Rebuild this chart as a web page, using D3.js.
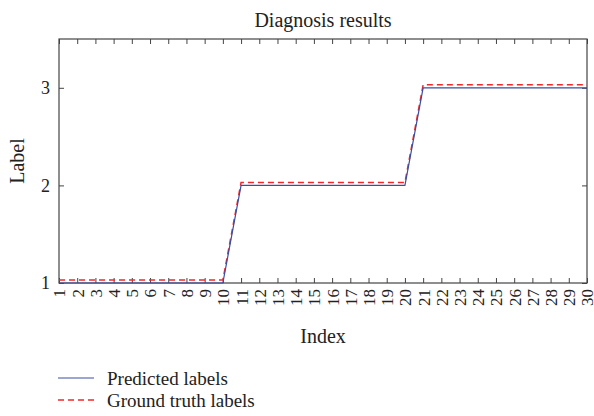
<!DOCTYPE html>
<html lang="en">
<head>
    <meta charset="UTF-8">
    <title>Diagnosis results</title>
    <script src="https://d3js.org/d3.v7.min.js"></script>
    <style>
        body { margin: 0; background: #fff; }
        svg text { font-family: "Liberation Serif", "DejaVu Serif", serif; fill: #222; }
        .frame { fill: none; stroke: #444; stroke-width: 1.2px; }
        .tick line { stroke: #444; }
    </style>
</head>
<body>
<div id="chart"></div>
<script>
    const indices = d3.range(1, 31);
    const predicted = [1,1,1,1,1,1,1,1,1,1, 2,2,2,2,2,2,2,2,2,2, 3,3,3,3,3,3,3,3,3,3];
    const groundTruth = [1,1,1,1,1,1,1,1,1,1, 2,2,2,2,2,2,2,2,2,2, 3,3,3,3,3,3,3,3,3,3];
    const yTicks = [1, 2, 3];
    // ground truth drawn slightly above so both lines stay visible
    const truthOffset = 0.03;

    const width = 594, height = 416;
    const margin = { top: 39, right: 7, bottom: 133, left: 59 };
    const w = width - margin.left - margin.right;
    const h = height - margin.top - margin.bottom;

    const svg = d3.select("#chart").append("svg")
        .attr("width", width)
        .attr("height", height);

    const g = svg.append("g").attr("transform", `translate(${margin.left},${margin.top})`);

    const x = d3.scaleLinear().domain([1, 30]).range([0, w]);
    const y = d3.scaleLinear().domain([1, 3.5]).range([h, 0]);

    // bottom axis with rotated labels
    const xAxis = g.append("g")
        .attr("transform", `translate(0,${h})`)
        .call(d3.axisBottom(x).tickValues(indices).tickFormat(d3.format("d")).tickSizeInner(-5).tickSizeOuter(0));
    xAxis.select(".domain").remove();
    xAxis.selectAll("text")
        .attr("transform", "rotate(-90)")
        .attr("x", -6)
        .attr("y", 0)
        .attr("dy", "0.35em")
        .style("text-anchor", "end")
        .style("font-size", "17px");

    // top ticks
    const xTop = g.append("g")
        .call(d3.axisTop(x).tickValues(indices).tickFormat("").tickSizeInner(-5).tickSizeOuter(0));
    xTop.select(".domain").remove();

    // left axis
    const yAxis = g.append("g")
        .call(d3.axisLeft(y).tickValues(yTicks).tickFormat(d3.format("d")).tickSizeInner(-5).tickSizeOuter(0));
    yAxis.select(".domain").remove();
    yAxis.selectAll("text").attr("x", -9).style("font-size", "18px");

    // right ticks
    const yRight = g.append("g")
        .attr("transform", `translate(${w},0)`)
        .call(d3.axisRight(y).tickValues(yTicks).tickFormat("").tickSizeInner(-5).tickSizeOuter(0));
    yRight.select(".domain").remove();

    g.append("rect").attr("class", "frame")
        .attr("width", w).attr("height", h);

    const line = d3.line().x(d => x(d[0])).y(d => y(d[1]));

    g.append("path")
        .datum(indices.map((d, i) => [d, groundTruth[i] + truthOffset]))
        .attr("d", line)
        .attr("fill", "none")
        .attr("stroke", "#f0282a")
        .attr("stroke-width", 1.5)
        .attr("stroke-dasharray", "6,4");

    g.append("path")
        .datum(indices.map((d, i) => [d, predicted[i]]))
        .attr("d", line)
        .attr("fill", "none")
        .attr("stroke", "#3a4ea6")
        .attr("stroke-width", 1.2);

    svg.append("text")
        .attr("x", margin.left + w / 2).attr("y", 27)
        .attr("text-anchor", "middle")
        .style("font-size", "20px")
        .text("Diagnosis results");

    svg.append("text")
        .attr("x", margin.left + w / 2).attr("y", 343)
        .attr("text-anchor", "middle")
        .style("font-size", "20px")
        .text("Index");

    svg.append("text")
        .attr("transform", `translate(24,${margin.top + h / 2}) rotate(-90)`)
        .attr("text-anchor", "middle")
        .style("font-size", "20px")
        .text("Label");

    // legend
    const legend = [
        { name: "Predicted labels", color: "#3a4ea6", dash: null, width: 1.2 },
        { name: "Ground truth labels", color: "#f0282a", dash: "6,4", width: 1.5 }
    ];
    const lg = svg.append("g").attr("transform", "translate(58,378)");
    legend.forEach((d, i) => {
        const row = lg.append("g").attr("transform", `translate(0,${i * 22})`);
        row.append("line")
            .attr("x1", 0).attr("x2", 36)
            .attr("stroke", d.color)
            .attr("stroke-width", d.width)
            .attr("stroke-dasharray", d.dash);
        row.append("text")
            .attr("x", 49).attr("dy", "0.35em")
            .style("font-size", "19px")
            .text(d.name);
    });
</script>
</body>
</html>
